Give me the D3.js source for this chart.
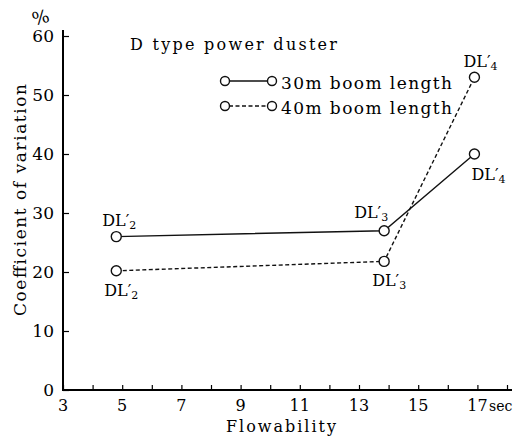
<!DOCTYPE html>
<html>
<head>
<meta charset="utf-8">
<script src="https://cdn.jsdelivr.net/npm/d3@7"></script>
<style>
  body { margin: 0; background: #fff; }
</style>
</head>
<body>
<svg id="chart" width="524" height="443" font-family="'DejaVu Serif', 'Liberation Serif', serif"></svg>
<script>
var flowability30 = [4.8, 13.85, 16.9];
var cv30 = [26, 27, 40];
var flowability40 = [4.8, 13.85, 16.9];
var cv40 = [20.2, 21.8, 53];
var labels30 = ["2", "3", "4"];
var labels40 = ["2", "3", "4"];
var xTickLabels = [3, 5, 7, 9, 11, 13, 15, 17];
var yTickLabels = [0, 10, 20, 30, 40, 50, 60];

var svg = d3.select("#chart");
var x = d3.scaleLinear().domain([3, 18]).range([63, 507]);
var y = d3.scaleLinear().domain([0, 60]).range([390, 36]);

// axes
var xAxis = svg.append("g").attr("transform", "translate(0,390)")
	.call(d3.axisBottom(x).tickValues(d3.range(3, 19)).tickSize(-5).tickFormat(""));
xAxis.select(".domain").attr("stroke-width", 2).attr("d", "M62,0H512");
xAxis.selectAll(".tick line").attr("stroke-width", 1.2);

var yAxis = svg.append("g").attr("transform", "translate(63,0)")
	.call(d3.axisLeft(y).tickValues(yTickLabels).tickSize(-6).tickFormat(""));
yAxis.select(".domain").attr("stroke-width", 2).attr("d", "M0,391V30");
yAxis.selectAll(".tick line").attr("stroke-width", 1.2);

svg.selectAll(".xlab").data(xTickLabels).enter().append("text")
	.attr("x", d => x(d)).attr("y", 411).attr("text-anchor", "middle")
	.attr("font-size", 16).text(d => d);
svg.append("text").attr("x", 489).attr("y", 411).attr("font-size", 14).text("sec");

svg.selectAll(".ylab").data(yTickLabels).enter().append("text")
	.attr("x", 54).attr("y", d => y(d) + 6).attr("text-anchor", "end")
	.attr("font-size", 17).text(d => d);

svg.append("text").attr("x", 32).attr("y", 24).attr("font-size", 18)
	.attr("transform", "rotate(-15,40,17)").text("%");

svg.append("text").attr("transform", "translate(26,200) rotate(-90)")
	.attr("text-anchor", "middle").attr("font-size", 17)
	.attr("textLength", 232).attr("lengthAdjust", "spacing").text("Coefficient of variation");
svg.append("text").attr("x", 281).attr("y", 432).attr("text-anchor", "middle")
	.attr("font-size", 16).attr("textLength", 110).attr("lengthAdjust", "spacing").text("Flowability");

svg.append("text").attr("x", 130).attr("y", 50).attr("font-size", 16)
	.attr("textLength", 207).attr("lengthAdjust", "spacing").text("D type power duster");

// legend
var legend = [{y: 81, dash: null, text: "30m boom length"}, {y: 106, dash: "4,2.5", text: "40m boom length"}];
legend.forEach(function(l) {
	svg.append("line").attr("x1", 229).attr("x2", 268).attr("y1", l.y).attr("y2", l.y)
		.attr("stroke", "#111").attr("stroke-width", 1.4).attr("stroke-dasharray", l.dash);
	[225, 272].forEach(function(cx) {
		svg.append("circle").attr("cx", cx).attr("cy", l.y).attr("r", 4.5)
			.attr("fill", "#fff").attr("stroke", "#111").attr("stroke-width", 1.4);
	});
	svg.append("text").attr("x", 281).attr("y", l.y + 8).attr("font-size", 17)
		.attr("textLength", 171).attr("lengthAdjust", "spacing").text(l.text);
});

// series
var line = d3.line().x(d => x(d[0])).y(d => y(d[1]));
var s30 = flowability30.map((f, i) => [f, cv30[i]]);
var s40 = flowability40.map((f, i) => [f, cv40[i]]);

svg.append("path").datum(s30).attr("d", line).attr("fill", "none")
	.attr("stroke", "#111").attr("stroke-width", 1.4);
svg.append("path").datum(s40).attr("d", line).attr("fill", "none")
	.attr("stroke", "#111").attr("stroke-width", 1.4).attr("stroke-dasharray", "4,2.5");

[s30, s40].forEach(function(s) {
	svg.selectAll(null).data(s).enter().append("circle")
		.attr("cx", d => x(d[0])).attr("cy", d => y(d[1])).attr("r", 5)
		.attr("fill", "#fff").attr("stroke", "#111").attr("stroke-width", 1.4);
});

// point labels
function dl(px, py, sub) {
	var t = svg.append("text").attr("x", px).attr("y", py).attr("font-size", 16);
	t.append("tspan").text("DL′");
	t.append("tspan").attr("font-size", 11).attr("dy", 3).text(sub);
}
var off30 = [[-14, -11], [-30, -13], [-3, 26]];
var off40 = [[-12, 25], [-12, 25], [-11, -10]];
s30.forEach((d, i) => dl(x(d[0]) + off30[i][0], y(d[1]) + off30[i][1], labels30[i]));
s40.forEach((d, i) => dl(x(d[0]) + off40[i][0], y(d[1]) + off40[i][1], labels40[i]));
</script>
</body>
</html>
